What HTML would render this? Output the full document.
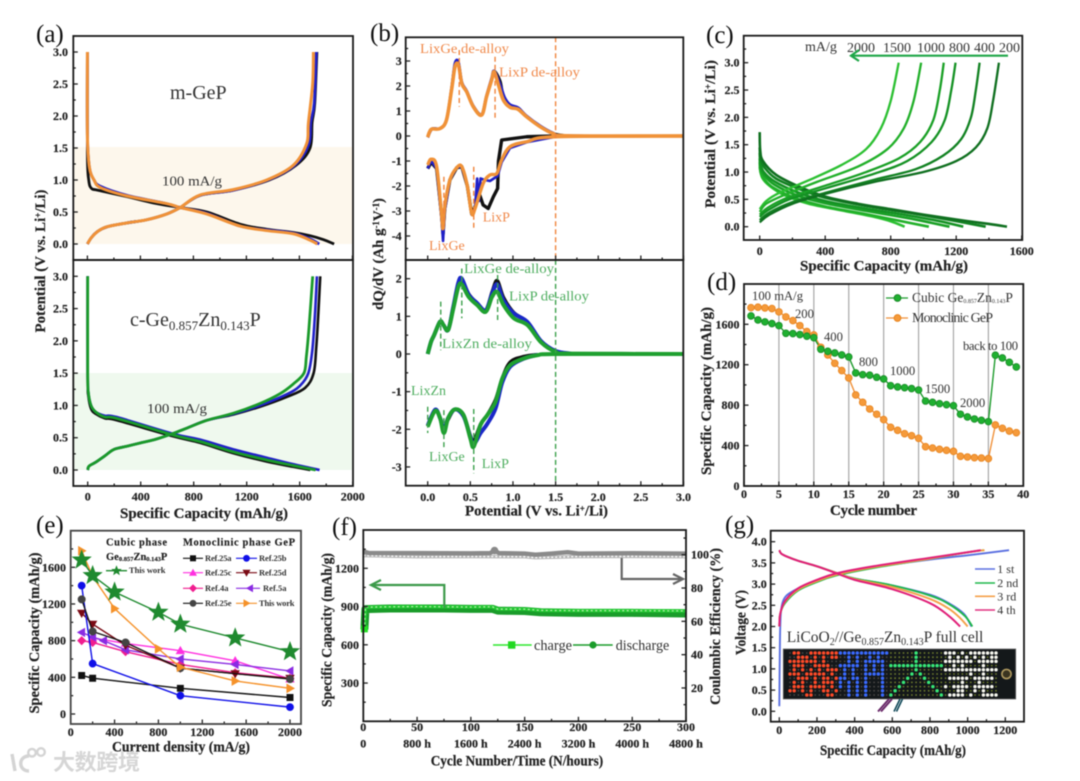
<!DOCTYPE html>
<html lang="en">
<head>
<meta charset="utf-8">
<title>Ge-Zn-P anode electrochemistry figure</title>
<style>
html,body{margin:0;padding:0;background:#fff;width:1080px;height:781px;overflow:hidden}
svg{display:block;filter:blur(0.55px)}
text{font-family:"Liberation Serif","Noto Sans CJK SC",serif;fill:#222}
.tk{font-weight:bold;font-size:12px;stroke:#222;stroke-width:.2}
.ti{font-weight:bold;font-size:15px;stroke:#222;stroke-width:.2}
.pl{font-size:25px;fill:#111}
.an{font-size:14px;fill:#333}
.dl{font-size:12.6px;fill:#333}
.or{font-size:14px;fill:#f08a4c}
.gr{font-size:14px;fill:#4fae60}
.lg{font-size:8.5px;font-weight:bold;letter-spacing:.5px;fill:#333}
.hd{font-size:10.5px;font-weight:bold;fill:#222;stroke:#222;stroke-width:.15}
</style>
</head>
<body>
<svg id="fig" xmlns="http://www.w3.org/2000/svg" width="1080" height="781" viewBox="0 0 1080 781">
<rect x="0" y="0" width="1080" height="781" fill="#fff"/>

<!-- shaded bands -->
<rect x="73" y="147" width="280" height="97" fill="#fdf7ec"/>
<rect x="73" y="373" width="280" height="97" fill="#eff9ee"/>

<!-- data layers -->
<g id="pa1"></g>
<g id="pa2"></g>
<g id="pb1"></g>
<g id="pb2"></g>
<g id="pc"></g>
<g id="pd"></g>
<g id="pe"></g>
<g id="pf"></g>
<g id="pg"></g>

<!-- frames -->
<g fill="none" stroke="#1a1a1a" stroke-width="1.8">
<rect x="73.3" y="36" width="279.7" height="224"/>
<rect x="73.3" y="260" width="279.7" height="226"/>
<rect x="405.7" y="37.3" width="277.6" height="222.7"/>
<rect x="405.7" y="260" width="277.6" height="225.7"/>
<rect x="743.7" y="35.7" width="278.6" height="204.3"/>
<rect x="744" y="284" width="279.3" height="202"/>
<rect x="70.7" y="530.7" width="230.3" height="193.3" stroke="#444"/>
<rect x="363.3" y="530" width="322.7" height="191.3"/>
<rect x="770.7" y="530.7" width="253.3" height="191"/>
</g>

<!-- panel letters -->
<text class="pl" x="36" y="42">(a)</text>
<text class="pl" x="370" y="41">(b)</text>
<text class="pl" x="706" y="43">(c)</text>
<text class="pl" x="707" y="290">(d)</text>
<text class="pl" x="36" y="533">(e)</text>
<text class="pl" x="332" y="535">(f)</text>
<text class="pl" x="725" y="533">(g)</text>

<!-- panel a text -->
<text x="170" y="99" font-size="20" style="fill:#333">m-GeP</text>
<text class="an" x="162" y="185.7" textLength="60" lengthAdjust="spacingAndGlyphs">100 mA/g</text>
<text x="130" y="326" font-size="20" style="fill:#333">c-Ge<tspan dy="4" font-size="13">0.857</tspan><tspan dy="-4">Zn</tspan><tspan dy="4" font-size="13">0.143</tspan><tspan dy="-4">P</tspan></text>
<text class="an" x="147" y="413" textLength="60" lengthAdjust="spacingAndGlyphs">100 mA/g</text>
<text class="ti" text-anchor="middle" transform="translate(45,261) rotate(-90)" textLength="143" lengthAdjust="spacingAndGlyphs">Potential (V vs. Li<tspan dy="-4" font-size="9">+</tspan><tspan dy="4">/Li)</tspan></text>
<text class="ti" x="120" y="518" textLength="168" lengthAdjust="spacingAndGlyphs">Specific Capacity (mAh/g)</text>

<!-- panel b text -->
<text class="or" x="420" y="53" textLength="89" lengthAdjust="spacingAndGlyphs">LixGe de-alloy</text>
<text class="or" x="499" y="76.7" textLength="81" lengthAdjust="spacingAndGlyphs">LixP de-alloy</text>
<text class="or" x="482.7" y="221.7">LixP</text>
<text class="or" x="429" y="250">LixGe</text>
<text class="gr" x="464" y="273" textLength="90" lengthAdjust="spacingAndGlyphs">LixGe de-alloy</text>
<text class="gr" x="509" y="300.7" textLength="80" lengthAdjust="spacingAndGlyphs">LixP de-alloy</text>
<text class="gr" x="442" y="348" textLength="90" lengthAdjust="spacingAndGlyphs">LixZn de-alloy</text>
<text class="gr" x="411" y="395">LixZn</text>
<text class="gr" x="429" y="461">LixGe</text>
<text class="gr" x="481.7" y="468">LixP</text>
<text class="ti" text-anchor="middle" transform="translate(383,254) rotate(-90)" textLength="112" lengthAdjust="spacingAndGlyphs">dQ/dV (Ah g<tspan dy="-4" font-size="9">-1</tspan><tspan dy="4">V</tspan><tspan dy="-4" font-size="9">-1</tspan><tspan dy="4">)</tspan></text>
<text class="ti" x="465" y="515.7" textLength="143" lengthAdjust="spacingAndGlyphs">Potential (V vs. Li<tspan dy="-4" font-size="9">+</tspan><tspan dy="4">/Li)</tspan></text>

<!-- panel c text -->
<text class="an" x="805" y="51">mA/g</text>
<text class="an" x="847" y="52">2000</text>
<text class="an" x="883" y="52">1500</text>
<text class="an" x="917" y="52">1000</text>
<text class="an" x="949" y="52">800</text>
<text class="an" x="974" y="52">400</text>
<text class="an" x="999" y="52">200</text>
<g fill="none" stroke="#1fa648" stroke-width="2.2">
<path d="M1008 55.7H851"/><path d="M859 50L851 55.7L859 61"/>
</g>
<text class="ti" text-anchor="middle" transform="translate(715,134) rotate(-90)" textLength="148" lengthAdjust="spacingAndGlyphs">Potential (V vs. Li<tspan dy="-4" font-size="9">+</tspan><tspan dy="4">/Li)</tspan></text>
<text class="ti" x="800" y="270.7" textLength="168" lengthAdjust="spacingAndGlyphs">Specific Capacity (mAh/g)</text>

<!-- panel d text -->
<text class="dl" x="752" y="300" textLength="51">100 mA/g</text>
<text class="dl" x="795" y="318">200</text>
<text class="dl" x="824" y="341">400</text>
<text class="dl" x="859" y="366">800</text>
<text class="dl" x="890" y="375">1000</text>
<text class="dl" x="925" y="393">1500</text>
<text class="dl" x="960" y="407">2000</text>
<text class="dl" x="963" y="350" textLength="55">back to 100</text>
<g>
<line x1="886" x2="908" y1="298" y2="298" stroke="#1f9c2e" stroke-width="1.3"/>
<circle cx="897.5" cy="298" r="3.4" fill="#1fb030" stroke="#1a8a28"/>
<text class="an" x="912" y="302" style="font-size:13.5px">Cubic Ge<tspan dy="1" font-size="6">0.857</tspan><tspan dy="-1">Zn</tspan><tspan dy="1" font-size="6">0.143</tspan><tspan dy="-1">P</tspan></text>
</g>
<g>
<line x1="886" x2="908" y1="318" y2="318" stroke="#f0913a" stroke-width="1.3"/>
<circle cx="897.5" cy="318" r="3.4" fill="#f59a3a" stroke="#e88520"/>
<text class="an" x="912" y="322" textLength="81">Monoclinic GeP</text>
</g>
<text class="ti" text-anchor="middle" transform="translate(711,391) rotate(-90)" textLength="168" lengthAdjust="spacingAndGlyphs">Specific Capacity (mAh/g)</text>
<text class="ti" x="830" y="515" textLength="87" lengthAdjust="spacing">Cycle number</text>

<!-- panel e text and legend -->
<text class="hd" x="106" y="545.7" textLength="61">Cubic phase</text>
<text class="hd" x="183" y="545.7" textLength="112">Monoclinic phase GeP</text>
<text class="hd" x="106" y="560">Ge<tspan font-size="6.5" dy="1">0.857</tspan><tspan dy="-1">Zn</tspan><tspan font-size="6.5" dy="1">0.143</tspan><tspan dy="-1">P</tspan></text>
<g>
<line x1="106" x2="127" y1="570.7" y2="570.7" stroke="#1f8a2f" stroke-width="1.3"/>
<polygon transform="translate(116.5,570.7)" points="0,-5.5 1.5,-1.7 5.2,-1.7 2.4,.8 3.3,4.5 0,2.3 -3.3,4.5 -2.4,.8 -5.2,-1.7 -1.5,-1.7" fill="#1f8a2f"/>
<text class="lg" x="129" y="573" textLength="37">This work</text>
</g>
<g><line x1="183" x2="203" y1="558.3" y2="558.3" stroke="#111" stroke-width="1.2"/><rect x="190" y="555.3" width="6" height="6" fill="#111"/><text class="lg" x="205" y="561" textLength="27">Ref.25a</text></g>
<g><line x1="236" x2="257" y1="558.3" y2="558.3" stroke="#1010e8" stroke-width="1.2"/><circle cx="246.5" cy="558.3" r="3.4" fill="#1010e8"/><text class="lg" x="259" y="561" textLength="28">Ref.25b</text></g>
<g><line x1="183" x2="203" y1="572.7" y2="572.7" stroke="#ff30e0" stroke-width="1.2"/><polygon transform="translate(193,572.7)" points="0,-4 4,3 -4,3" fill="#ff30e0"/><text class="lg" x="205" y="575.4" textLength="27">Ref.25c</text></g>
<g><line x1="236" x2="257" y1="572.7" y2="572.7" stroke="#7a0a14" stroke-width="1.2"/><polygon transform="translate(246.5,572.7)" points="0,4 4,-3 -4,-3" fill="#7a0a14"/><text class="lg" x="259" y="575.4" textLength="28">Ref.25d</text></g>
<g><line x1="183" x2="203" y1="588.3" y2="588.3" stroke="#f01d8f" stroke-width="1.2"/><polygon transform="translate(193,588.3)" points="0,-4 4,0 0,4 -4,0" fill="#f01d8f"/><text class="lg" x="205" y="591" textLength="24">Ref.4a</text></g>
<g><line x1="236" x2="260" y1="588.3" y2="588.3" stroke="#8a2be2" stroke-width="1.2"/><polygon transform="translate(250,588.3)" points="-4,0 3,-4 3,4" fill="#8a2be2"/><text class="lg" x="263" y="591" textLength="24">Ref.5a</text></g>
<g><line x1="183" x2="203" y1="603.3" y2="603.3" stroke="#111" stroke-width="1.2"/><circle cx="193" cy="603.3" r="3.4" fill="#444"/><text class="lg" x="205" y="606" textLength="27">Ref.25e</text></g>
<g><line x1="236" x2="257" y1="603.3" y2="603.3" stroke="#f5922a" stroke-width="1.2"/><polygon transform="translate(246.5,603.3)" points="4,0 -3,-4 -3,4" fill="#f5922a"/><text class="lg" x="259" y="606" textLength="36">This work</text></g>
<text class="ti" text-anchor="middle" transform="translate(39,633) rotate(-90)" textLength="161" lengthAdjust="spacingAndGlyphs">Specific Capacity (mAh/g)</text>
<text class="ti" x="112" y="751.7" textLength="138" lengthAdjust="spacingAndGlyphs">Current density (mA/g)</text>

<!-- panel f text and annotations -->
<g fill="none" stroke="#3c9a4a" stroke-width="2.2">
<path d="M444.3 608V585H372"/><path d="M381 580L371 585L381 590" />
</g>
<g fill="none" stroke="#666" stroke-width="2.2">
<path d="M621.7 558V579H682"/><path d="M673 574L683 579L673 584"/>
</g>
<g>
<line x1="493" x2="531.7" y1="645" y2="645" stroke="#2ee82e" stroke-width="1.6"/>
<rect x="508" y="641.3" width="7.4" height="7.4" fill="#22d822"/>
<text class="an" x="534" y="650" textLength="38" lengthAdjust="spacingAndGlyphs" style="font-size:14.5px">charge</text>
</g>
<g>
<line x1="573" x2="612.7" y1="645" y2="645" stroke="#1a9c2a" stroke-width="1.6"/>
<circle cx="593" cy="645" r="3.6" fill="#1a9c2a"/>
<text class="an" x="615.7" y="650" textLength="53.5" lengthAdjust="spacingAndGlyphs" style="font-size:14.5px">discharge</text>
</g>
<text class="ti" text-anchor="middle" transform="translate(331.7,630) rotate(-90)" textLength="154" lengthAdjust="spacingAndGlyphs">Specific Capacity (mAh/g)</text>
<text class="ti" text-anchor="middle" transform="translate(720,626.5) rotate(-90)" textLength="157" lengthAdjust="spacingAndGlyphs">Coulombic Efficiency (%)</text>
<text class="ti" x="430.7" y="765.7" textLength="172.5" lengthAdjust="spacingAndGlyphs">Cycle Number/Time (N/hours)</text>

<!-- panel g text -->
<g><line x1="975" x2="995" y1="569" y2="569" stroke="#5a6fe0" stroke-width="1.6"/><text class="an" x="997.3" y="573" style="font-size:12px">1 st</text></g>
<g><line x1="975" x2="995" y1="583" y2="583" stroke="#1eb84a" stroke-width="1.6"/><text class="an" x="997.3" y="587" style="font-size:12px">2 nd</text></g>
<g><line x1="975" x2="995" y1="596.3" y2="596.3" stroke="#f5a04a" stroke-width="1.6"/><text class="an" x="997.3" y="600.3" style="font-size:12px">3 rd</text></g>
<g><line x1="975" x2="995" y1="610" y2="610" stroke="#e0307f" stroke-width="1.6"/><text class="an" x="997.3" y="614" style="font-size:12px">4 th</text></g>
<text x="786.7" y="642" font-size="15.5" style="fill:#333">LiCoO<tspan dy="3" font-size="10">2</tspan><tspan dy="-3">//Ge</tspan><tspan dy="3" font-size="10">0.857</tspan><tspan dy="-3">Zn</tspan><tspan dy="3" font-size="10">0.143</tspan><tspan dy="-3">P full cell</tspan></text>
<text class="ti" text-anchor="middle" transform="translate(745.7,622.5) rotate(-90)" textLength="65" lengthAdjust="spacingAndGlyphs">Voltage (V)</text>
<text class="ti" x="820" y="755" textLength="146" lengthAdjust="spacingAndGlyphs">Specific Capacity (mAh/g)</text>

<!-- LED photo -->
<g id="led">
<rect x="783.3" y="649" width="232.4" height="50" fill="#14181a" stroke="#666" stroke-width=".8"/>
<path d="M889 699L878 711.5M892 699L881 711.5" stroke="#6a2a6a" stroke-width="2" fill="none"/>
<path d="M900 699L894 711.5M902.5 699L896.5 711.5" stroke="#124a5a" stroke-width="1.6" fill="none"/>
<circle cx="1006.5" cy="674" r="4.6" fill="#3a3420" stroke="#b09a60" stroke-width="1.6"/>
</g>

<!-- watermark -->
<g>
<g fill="none" stroke="#d4d4d4" stroke-width="3.4">
<path d="M12 754L15 771"/><path d="M29 756C18 756 18 771 29 771"/>
<circle cx="32" cy="752.7" r="3.8" stroke-width="2.4"/><circle cx="41" cy="752" r="3.8" stroke-width="2.4"/>
</g>
<text x="53" y="770" font-size="22" font-weight="700" textLength="87" style="font-family:'Liberation Sans','Noto Sans CJK SC',sans-serif;fill:#d6d6d6">大数跨境</text>
</g>
</svg>

<script>
/* ---------- axis tick values ---------- */
const aXTicks=[0,400,800,1200,1600,2000];
const aXMinor=[200,600,1000,1400,1800];
const aYTicks=[0,0.5,1,1.5,2,2.5,3];
const aYMinor=[0.25,0.75,1.25,1.75,2.25,2.75,3.25];
const bXTicks=[0,0.5,1,1.5,2,2.5,3];
const bXMinor=[0.25,0.75,1.25,1.75,2.25,2.75];
const b1YTicks=[-4,-3,-2,-1,0,1,2,3];
const b1YMinor=[-4.5,-3.5,-2.5,-1.5,-0.5,0.5,1.5,2.5,3.5];
const b2YTicks=[-3,-2,-1,0,1,2];
const b2YMinor=[-2.5,-1.5,-0.5,0.5,1.5];
const cXTicks=[0,400,800,1200,1600];
const cXMinor=[200,600,1000,1400];
const cYTicks=[0,0.5,1,1.5,2,2.5,3];
const cYMinor=[0.25,0.75,1.25,1.75,2.25,2.75,3.25];
const dXTicks=[0,5,10,15,20,25,30,35,40];
const dXMinor=[2.5,7.5,12.5,17.5,22.5,27.5,32.5,37.5];
const dYTicks=[0,400,800,1200,1600];
const dYMinor=[200,600,1000,1400,1800];
const dGridCycles=[5,10,15,20,25,30,35];
const eXTicks=[0,400,800,1200,1600,2000];
const eXMinor=[200,600,1000,1400,1800];
const eYTicks=[0,400,800,1200,1600];
const eYMinor=[200,600,1000,1400,1800];
const fXTicks=[0,50,100,150,200,250,300];
const fXMinor=[25,75,125,175,225,275];
const fHourLabels=['0','800 h','1600 h','2400 h','3200 h','4000 h','4800 h'];
const fYTicks=[300,600,900,1200];
const fYMinor=[150,450,750,1050,1350];
const fRightTicks=[20,40,60,80,100];
const fRightMinor=[10,30,50,70,90,110];
const gXTicks=[0,200,400,600,800,1000,1200];
const gXMinor=[100,300,500,700,900,1100];
const gYTicks=[0,0.5,1,1.5,2,2.5,3,3.5,4];
const gYMinor=[0.25,0.75,1.25,1.75,2.25,2.75,3.25,3.75];

/* ---------- panel a (capacity, potential) ---------- */
const a1BlackDis=[[0,3],[0,1.4],[10,1.0],[30,.87],[80,.84],[300,.74],[500,.64],[700,.57],[900,.5],[1152,.31],[1353,.23],[1554,.18],[1680,.13],[1780,.07],[1862,0]];
const a1BlueDis=[[0,3],[0,1.7],[15,1.2],[50,1.0],[100,.9],[300,.76],[600,.63],[700,.57],[900,.48],[1152,.28],[1353,.22],[1554,.17],[1680,.08],[1750,0]];
const a1OrangeDis=[[0,3],[0,1.7],[15,1.2],[50,1.0],[100,.88],[300,.75],[600,.63],[700,.57],[900,.47],[1152,.28],[1353,.21],[1554,.16],[1680,.06],[1735,0]];
const a1BlackCh=[[0,0],[30,.1],[80,.2],[150,.27],[300,.33],[450,.38],[600,.47],[700,.57],[850,.76],[1100,.84],[1373,1.0],[1574,1.23],[1680,1.5],[1696,1.9],[1716,2.2],[1732,3]];
const a1BlueCh=[[0,0],[30,.1],[80,.2],[150,.27],[300,.33],[450,.38],[600,.47],[700,.57],[850,.76],[1100,.84],[1363,1.0],[1564,1.23],[1670,1.55],[1686,1.9],[1712,2.2],[1728,3]];
const a1OrangeCh=[[0,0],[30,.1],[80,.2],[150,.27],[300,.33],[450,.38],[600,.47],[700,.57],[850,.765],[1100,.85],[1353,1.0],[1554,1.23],[1655,1.57],[1668,1.89],[1700,2.5],[1706,3]];
const a2BlackDis=[[0,3],[0,1.4],[5,1.15],[25,.95],[60,.87],[130,.8],[219,.77],[647,.52],[850,.42],[1100,.26],[1352,.13],[1550,.05],[1680,0]];
const a2BlueDis=[[0,3],[0,1.5],[5,1.2],[25,1],[60,.9],[130,.84],[219,.82],[647,.56],[850,.47],[1100,.32],[1352,.19],[1550,.09],[1750,0]];
const a2GreenDis=[[0,3],[0,1.5],[5,1.2],[25,1],[60,.9],[130,.82],[219,.8],[647,.54],[850,.44],[1100,.28],[1352,.155],[1550,.07],[1720,0]];
const a2BlackCh=[[0,0],[10,.06],[60,.12],[130,.22],[200,.32],[300,.37],[400,.42],[520,.48],[650,.57],[750,.65],[900,.77],[1100,.86],[1300,.98],[1500,1.13],[1640,1.27],[1705,1.5],[1725,1.9],[1740,2.4],[1755,3]];
const a2BlueCh=[[0,0],[10,.06],[60,.12],[130,.22],[200,.32],[300,.37],[400,.42],[520,.48],[650,.57],[750,.65],[900,.77],[1100,.87],[1300,1.0],[1500,1.17],[1600,1.3],[1665,1.5],[1695,1.85],[1715,2.4],[1730,3]];
const a2GreenCh=[[0,0],[10,.06],[60,.12],[130,.22],[200,.32],[300,.37],[400,.42],[520,.48],[650,.57],[750,.65],[900,.77],[1100,.88],[1300,1.03],[1450,1.18],[1550,1.33],[1632,1.5],[1650,1.75],[1670,2.2],[1698,3]];

/* ---------- panel b (potential, dQ/dV) ---------- */
const b1OrangeUp=[[0,-.05],[.02,.15],[.05,.28],[.145,.3],[.22,.64],[.28,1.85],[.32,2.77],[.36,2.85],[.4,2.1],[.457,1.77],[.535,1.17],[.633,.84],[.69,1.57],[.75,2.24],[.78,2.57],[.83,2.04],[.887,1.44],[.965,1.15],[1.06,1.07],[1.16,.77],[1.32,.37],[1.47,.1],[1.63,.01],[3,0]];
const b1BlueUp=[[0,-.05],[.05,.28],[.145,.3],[.22,.64],[.28,1.9],[.32,2.9],[.36,2.95],[.4,2.15],[.457,1.8],[.535,1.2],[.633,.86],[.69,1.6],[.75,2.3],[.78,2.6],[.85,2.05],[.9,1.55],[.965,1.25],[1.06,1.13],[1.16,.8],[1.32,.4],[1.47,.12],[1.63,.01],[3,0]];
const b1BlackUp=[[0,-.05],[.05,.28],[.145,.3],[.22,.64],[.28,1.85],[.32,2.8],[.36,2.9],[.4,2.1],[.457,1.77],[.535,1.17],[.633,.84],[.69,1.6],[.75,2.25],[.78,2.6],[.85,2.2],[.89,1.55],[.965,1.2],[1.06,1.1],[1.16,.78],[1.32,.38],[1.47,.1],[1.63,.01]];
const b1OrangeDown=[[3,0],[1.5,-.03],[1.16,-.23],[.965,-.43],[.867,-.96],[.81,-1.5],[.73,-1.56],[.65,-1.9],[.555,-2.9],[.516,-3.1],[.465,-2],[.4,-1.23],[.34,-1.27],[.26,-1.76],[.2,-2.83],[.18,-3.7],[.164,-3.2],[.105,-1.23],[.04,-.93],[0,-1.16]];
const b1BlueDown=[[1.5,-.03],[1.16,-.25],[.965,-.48],[.867,-1.05],[.82,-1.6],[.73,-1.8],[.66,-1.75],[.62,-1.7],[.6,-2.6],[.58,-1.7],[.555,-2.9],[.516,-3.15],[.465,-2],[.4,-1.23],[.34,-1.25],[.26,-1.76],[.2,-3],[.18,-4.2],[.164,-3.4],[.105,-1.3],[.04,-1],[0,-1.3]];
const b1BlackDown=[[1.5,0],[1.16,-.03],[.867,-.16],[.83,-1],[.82,-2.1],[.77,-2.43],[.71,-2.9],[.65,-2.76],[.61,-2.36],[.555,-2.83],[.516,-3.12],[.465,-2],[.4,-1.23],[.34,-1.27],[.26,-1.76],[.2,-2.9],[.18,-3.9],[.164,-3.2],[.105,-1.3],[.04,-1.05],[0,-1.3]];
const b2GreenUp=[[0,0],[.04,.33],[.075,.5],[.145,.86],[.185,.77],[.24,.64],[.3,1.2],[.36,1.79],[.4,1.85],[.48,1.52],[.58,1.3],[.68,1.12],[.755,1.52],[.815,1.65],[.89,1.3],[1.01,.95],[1.17,.77],[1.33,.31],[1.5,.06],[1.68,.01],[3,0]];
const b2BlueUp=[[0,0],[.04,.33],[.075,.5],[.145,.86],[.185,.77],[.24,.64],[.3,1.25],[.36,1.9],[.4,2],[.48,1.58],[.58,1.35],[.68,1.16],[.755,1.6],[.815,1.85],[.89,1.42],[1.01,1.08],[1.17,.85],[1.33,.34],[1.5,.08],[1.68,.01]];
const b2BlackUp=[[.04,.33],[.075,.5],[.145,.86],[.185,.77],[.24,.64],[.3,1.25],[.36,1.9],[.4,2],[.48,1.6],[.58,1.35],[.68,1.16],[.755,1.65],[.815,1.95],[.89,1.5],[1.01,1.1],[1.17,.85],[1.33,.33],[1.5,.07]];
const b2GreenDown=[[3,0],[1.52,0],[1.29,-.03],[1.13,-.115],[.97,-.29],[.875,-.65],[.795,-1.27],[.7,-1.62],[.62,-1.88],[.54,-2.46],[.5,-2.24],[.42,-1.62],[.32,-1.47],[.24,-1.7],[.19,-2.1],[.145,-1.7],[.087,-1.51],[0,-1.93]];
const b2BlueDown=[[1.29,-.02],[1.13,-.12],[.97,-.33],[.875,-.75],[.795,-1.45],[.7,-1.85],[.62,-2.1],[.54,-2.4],[.5,-2.2],[.42,-1.65],[.32,-1.47],[.24,-1.7],[.19,-2],[.145,-1.7],[.087,-1.48],[0,-1.9]];
const b2BlackDown=[[1.29,-.01],[1.13,-.06],[.97,-.2],[.875,-.62],[.795,-1.2],[.7,-1.6],[.62,-1.85],[.54,-2.3],[.5,-2.15],[.42,-1.6],[.32,-1.47],[.24,-1.75],[.19,-1.95],[.145,-1.7],[.087,-1.5],[0,-1.88]];
const b1DashX=[.37,.79,.19,.54];
const b1DashTop=[3.44,3.17,-1.63,-1.23];
const b1DashBottom=[1.17,.64,-3.63,-3.76];
const b2DashX=[.153,.4,.82,0,.19,.54];
const b2DashTop=[1.39,2.27,2.1,-1.4,-1.49,-1.46];
const b2DashBottom=[.1,.95,.86,-2.1,-2.55,-3.17];

/* ---------- panel c (capacity, potential) ---------- */
const cCharge200=[[0,.08],[60,.22],[200,.42],[400,.6],[700,.82],[1000,1],[1200,1.2],[1320,1.45],[1390,1.8],[1425,2.3],[1461,3]];
const cCharge400=[[0,.12],[60,.26],[200,.45],[400,.62],[700,.86],[950,1.05],[1120,1.3],[1230,1.6],[1290,2],[1320,2.5],[1343,3]];
const cCharge800=[[0,.18],[50,.3],[180,.5],[400,.7],[700,.97],[900,1.2],[1050,1.55],[1130,1.95],[1170,2.5],[1196,3]];
const cCharge1000=[[0,.22],[50,.35],[170,.53],[400,.75],[650,1],[850,1.25],[980,1.55],[1060,1.95],[1100,2.5],[1124,3]];
const cCharge1500=[[0,.27],[40,.42],[150,.58],[350,.82],[600,1.1],[780,1.42],[880,1.8],[940,2.3],[986,3]];
const cCharge2000=[[0,.32],[40,.47],[120,.62],[300,.85],[500,1.13],[650,1.42],[740,1.8],[800,2.3],[849,3]];
const cDis200=[[0,1.73],[3,1.4],[20,1.2],[100,.95],[250,.72],[400,.55],[600,.42],[800,.32],[1000,.22],[1200,.13],[1400,.05],[1510,0]];
const cDis400=[[0,1.45],[5,1.25],[30,1.08],[100,.88],[250,.68],[400,.53],[650,.38],[900,.26],[1150,.13],[1380,0]];
const cDis800=[[0,1.35],[5,1.15],[25,1],[90,.83],[230,.63],[400,.47],[650,.33],[900,.21],[1100,.1],[1243,0]];
const cDis1000=[[0,1.25],[5,1.08],[25,.95],[90,.77],[230,.57],[400,.43],[650,.29],[900,.16],[1050,.07],[1159,0]];
const cDis1500=[[0,1.18],[5,1],[25,.88],[80,.72],[220,.52],[400,.37],[650,.23],[850,.11],[1033,0]];
const cDis2000=[[0,1.1],[15,.9],[60,.75],[150,.58],[300,.42],[500,.3],[700,.18],[800,.1],[885,0]];

/* ---------- panel d ---------- */
const dCycles=[1,2,3,4,5,6,7,8,9,10,11,12,13,14,15,16,17,18,19,20,21,22,23,24,25,26,27,28,29,30,31,32,33,34,35,36,37,38,39];
const dCubic=[1683,1643,1624,1607,1587,1511,1508,1498,1482,1468,1353,1333,1317,1297,1277,1119,1102,1096,1076,1059,993,980,973,964,950,841,828,815,805,795,710,683,663,650,637,1294,1267,1224,1178];
const dMonoclinic=[1765,1769,1762,1756,1723,1673,1637,1587,1528,1495,1373,1297,1214,1142,1069,901,828,762,710,657,581,551,518,498,472,389,376,363,353,343,294,287,280,277,271,604,571,544,528];

/* ---------- panel e (current density, capacity) ---------- */
const eRef25a=[[100,420],[200,390],[1000,280],[2000,180]];
const eRef25b=[[100,1400],[200,550],[1000,200],[2000,75]];
const eRef25c=[[200,830],[500,770],[1000,690],[1500,580],[2000,380]];
const eRef25d=[[100,1100],[200,980],[500,750],[1000,500],[1500,440],[2000,390]];
const eRef4a=[[100,800],[200,780],[500,680],[1000,540],[1500,450],[2000,390]];
const eRef5a=[[100,890],[200,840],[300,800],[500,700],[1000,600],[1500,540],[2000,470]];
const eRef25e=[[100,1250],[200,900],[500,780],[1000,500],[2000,380]];
const eThisMono=[[100,1780],[200,1500],[400,1150],[800,710],[1000,510],[1500,360],[2000,280]];
const eThisCubic=[[100,1680],[200,1510],[400,1330],[800,1110],[1000,980],[1500,830],[2000,680]];

/* ---------- panel f (cycle, value) ---------- */
const fDischarge=[[1,720],[2,880],[25,885],[50,885],[75,885],[100,882],[120,882],[125,868],[150,865],[165,855],[200,850],[250,850],[300,845]];
const fCharge=[[1,725],[2,895],[25,898],[50,900],[75,898],[100,896],[120,898],[125,880],[150,880],[165,870],[200,868],[250,868],[300,866]];
const fCeCharge=[[0,102],[5,101],[50,101],[100,100.8],[118,101],[122,102.5],[126,101],[150,100.7],[160,100],[175,100.7],[190,101.5],[200,100.7],[250,100.9],[300,100.7]];
const fCeDischarge=[[0,99.5],[50,98.8],[100,98.9],[150,98.8],[160,98.2],[200,98.9],[250,99],[300,98.8]];

/* ---------- panel g (capacity, voltage) ---------- */
const gCh1=[[0,.12],[3,1.5],[5,2],[10,2.4],[25,2.65],[60,2.8],[150,3],[300,3.22],[500,3.4],[800,3.58],[1000,3.68],[1220,3.8]];
const gCh2=[[0,2],[5,2.3],[30,2.55],[100,2.85],[200,3.05],[300,3.2],[500,3.38],[800,3.6],[1000,3.75],[1085,3.8]];
const gCh3=[[0,2],[5,2.3],[30,2.58],[100,2.87],[200,3.07],[300,3.22],[500,3.4],[800,3.6],[1000,3.75],[1090,3.8]];
const gCh4=[[0,2],[5,2.3],[30,2.6],[100,2.9],[200,3.1],[300,3.25],[500,3.42],[800,3.62],[1000,3.75],[1070,3.8]];
const gDis1=[[0,3.8],[10,3.72],[40,3.65],[100,3.55],[200,3.42],[300,3.27],[400,3.13],[600,2.97],[800,2.75],[900,2.55],[980,2.3],[1020,2]];
const gDis2=[[0,3.8],[10,3.72],[40,3.65],[100,3.55],[200,3.42],[300,3.27],[400,3.13],[600,2.97],[800,2.73],[900,2.53],[985,2.25],[1025,2]];
const gDis3=[[0,3.8],[10,3.72],[40,3.65],[100,3.55],[200,3.42],[300,3.27],[400,3.12],[600,2.93],[800,2.65],[900,2.42],[960,2.2],[1000,2]];
const gDis4=[[0,3.8],[10,3.72],[40,3.65],[100,3.55],[200,3.42],[300,3.26],[400,3.1],[600,2.88],[800,2.55],[900,2.25],[960,2]];

/* ---------- LED bitmap rows ---------- */
const ledRed=[".##..#######","..###.#.#.##","#######.#...",".###..####..",".#.#.#.#.###","###.#####.#.","..###.#.##.#",".#.#..#.###.",".###.####.#.","##.#.#..##.#","....##...##."];
const ledBlue=["############","..#.#..#.#..","..#.#.#####.","#####.#.#.#.",".#.#..#.#.#.",".#.#..#####.","##.##.#...#.","#.#.#.#...#.","#.#.#.#...#.","..#.#.#...#.","..#.#.#...#."];
const ledGreen=["......#......","......#......","......#......","#############","......#......",".....#.#.....","....#...#....","...#.....#...","..#.......#..",".#.........#.","#...........#"];
const ledWhite=["###.#.#######",".#.#.#.#.#.##","#######.#####","..#.#....#...","#############","......#..#...",".#####.#####.","....#...#....","#.####.#####.","...##..#.#...",".####.#..####"];

/* ---------- helpers ---------- */
const NS='http://www.w3.org/2000/svg';
function scale(d0,d1,r0,r1){return v=>r0+(v-d0)*(r1-r0)/(d1-d0);}
function gOf(id){return document.getElementById(id);}
function drawPath(g,pts,sx,sy,color,w,name,smooth,dash){
  const p=pts.map(q=>[sx(q[0]),sy(q[1])]);
  let d='M'+p[0][0].toFixed(2)+' '+p[0][1].toFixed(2);
  for(let i=0;i<p.length-1;i++){
    if(smooth){
      const a=p[i-1]||p[i],b=p[i],c=p[i+1],e=p[i+2]||c;
      d+='C'+(b[0]+(c[0]-a[0])/6).toFixed(2)+' '+(b[1]+(c[1]-a[1])/6).toFixed(2)+' '+(c[0]-(e[0]-b[0])/6).toFixed(2)+' '+(c[1]-(e[1]-b[1])/6).toFixed(2)+' '+c[0].toFixed(2)+' '+c[1].toFixed(2);
    }else{d+='L'+p[i+1][0].toFixed(2)+' '+p[i+1][1].toFixed(2);}
  }
  const el=document.createElementNS(NS,'path');
  el.setAttribute('d',d);
  el.setAttribute('fill','none');
  el.setAttribute('stroke',color);
  el.setAttribute('stroke-width',w);
  el.setAttribute('stroke-linejoin','round');
  if(dash)el.setAttribute('stroke-dasharray',dash);
  
  
  g.appendChild(el);
}
function drawTick(g,x1,y1,x2,y2){
  const el=document.createElementNS(NS,'line');
  el.setAttribute('x1',x1);el.setAttribute('y1',y1);el.setAttribute('x2',x2);el.setAttribute('y2',y2);
  el.setAttribute('stroke','#222');
  el.setAttribute('stroke-width','1.3');
  
  
  g.appendChild(el);
}
function drawLabel(g,x,y,txt,anchor){
  const el=document.createElementNS(NS,'text');
  el.setAttribute('x',x);el.setAttribute('y',y);
  el.setAttribute('text-anchor',anchor);
  el.setAttribute('class','tk');
  el.textContent=txt;
  
  
  g.appendChild(el);
}
function xAxis(g,s,major,minor,yEdge,labelY,fmt){
  major.forEach(v=>{drawTick(g,s(v),yEdge,s(v),yEdge-4.5);
    if(labelY)drawLabel(g,s(v),labelY,fmt?fmt(v):String(v),'middle');});
  minor.forEach(v=>drawTick(g,s(v),yEdge,s(v),yEdge-2.5));
}
function yAxis(g,s,major,minor,xEdge,labelX,fmt,dir,anchor){
  const k=dir||1;
  major.forEach(v=>{drawTick(g,xEdge,s(v),xEdge+k*4.5,s(v));
    drawLabel(g,labelX,s(v)+4,fmt?fmt(v):String(v),anchor||'end');});
  minor.forEach(v=>drawTick(g,xEdge,s(v),xEdge+k*2.5,s(v)));
}
function polyPoints(type,r){
  if(type==='up')return [[0,-r],[r,r*.75],[-r,r*.75]];
  if(type==='down')return [[0,r],[r,-r*.75],[-r,-r*.75]];
  if(type==='left')return [[-r,0],[r*.75,-r],[r*.75,r]];
  if(type==='right')return [[r,0],[-r*.75,-r],[-r*.75,r]];
  if(type==='diamond')return [[0,-r],[r,0],[0,r],[-r,0]];
  if(type==='square')return [[-r*.85,-r*.85],[r*.85,-r*.85],[r*.85,r*.85],[-r*.85,r*.85]];
  const out=[];
  for(let i=0;i<10;i++){const a=-Math.PI/2+i*Math.PI/5,q=i%2?r*.42:r;out.push([q*Math.cos(a),q*Math.sin(a)]);}
  return out;
}
function drawMarker(g,type,cx,cy,r,fill,stroke,name){
  let el;
  if(type==='circle'){
    el=document.createElementNS(NS,'circle');
    el.setAttribute('cx',cx);el.setAttribute('cy',cy);el.setAttribute('r',r);
  }else{
    el=document.createElementNS(NS,'polygon');
    el.setAttribute('points',polyPoints(type,r).map(q=>(cx+q[0]).toFixed(2)+','+(cy+q[1]).toFixed(2)).join(' '));
  }
  el.setAttribute('fill',fill);
  el.setAttribute('stroke',stroke||fill);
  el.setAttribute('stroke-width','.8');
  
  
  g.appendChild(el);
}
function drawSeries(g,pts,sx,sy,type,r,color,name){
  drawPath(g,pts,sx,sy,color,1.4,name+'-line',false);
  pts.forEach(q=>drawMarker(g,type,sx(q[0]),sy(q[1]),r,color,color,name+'-point'));
}
const f1=v=>v.toFixed(1);

/* ---------- panel a ---------- */
(function(){
  const g=gOf('pa1'),x=scale(0,2000,87.4,352.4),y=scale(0,3,244,52);
  drawPath(g,a1BlackDis,x,y,'#111',2.8,'a-top-black-discharge',true);
  drawPath(g,a1BlueDis,x,y,'#2020c8',2.8,'a-top-blue-discharge',true);
  drawPath(g,a1OrangeDis,x,y,'#f09238',3,'a-top-orange-discharge',true);
  drawPath(g,a1BlackCh,x,y,'#111',2.8,'a-top-black-charge',true);
  drawPath(g,a1BlueCh,x,y,'#2020c8',2.8,'a-top-blue-charge',true);
  drawPath(g,a1OrangeCh,x,y,'#f09238',3,'a-top-orange-charge',true);
  xAxis(g,x,aXTicks,aXMinor,260,null);
  yAxis(g,y,aYTicks,aYMinor,73.3,68,f1);
  const h=gOf('pa2'),x2=scale(0,2000,87.7,352.7),y2=scale(0,3,470,276.3);
  drawPath(h,a2BlackDis,x2,y2,'#111',2.6,'a-bottom-black-discharge',true);
  drawPath(h,a2BlueDis,x2,y2,'#2020c8',2.6,'a-bottom-blue-discharge',true);
  drawPath(h,a2GreenDis,x2,y2,'#1a9a2a',2.8,'a-bottom-green-discharge',true);
  drawPath(h,a2BlackCh,x2,y2,'#111',2.6,'a-bottom-black-charge',true);
  drawPath(h,a2BlueCh,x2,y2,'#2020c8',2.6,'a-bottom-blue-charge',true);
  drawPath(h,a2GreenCh,x2,y2,'#1a9a2a',2.8,'a-bottom-green-charge',true);
  xAxis(h,x2,aXTicks,aXMinor,486,500.7);
  yAxis(h,y2,aYTicks,aYMinor,73.3,68,f1);
})();

/* ---------- panel b ---------- */
(function(){
  const g=gOf('pb1'),x=scale(0,3,427.7,683.5),y=scale(0,3,136,61);
  drawPath(g,b1BlackUp,x,y,'#111',2.8,'b-top-black-delithiation',true);
  drawPath(g,b1BlueUp,x,y,'#2020c8',3,'b-top-blue-delithiation',true);
  drawPath(g,b1BlackDown,x,y,'#111',3.4,'b-top-black-lithiation',false);
  drawPath(g,b1BlueDown,x,y,'#2020c8',2.6,'b-top-blue-lithiation',false);
  drawPath(g,b1OrangeUp,x,y,'#f09238',3.6,'b-top-orange-delithiation',true);
  drawPath(g,b1OrangeDown,x,y,'#f09238',3.4,'b-top-orange-lithiation',true);
  b1DashX.forEach((v,i)=>drawPath(g,[[v,b1DashTop[i]],[v,b1DashBottom[i]]],x,y,'#f0843c',1.4,'b-top-dashed-marker',false,'5 3'));
  drawPath(g,[[1.5,3.95],[1.5,-4.96]],x,y,'#f0843c',1.4,'b-top-dashed-1p5v',false,'5 3');
  xAxis(g,x,bXTicks,bXMinor,260,null);
  yAxis(g,y,b1YTicks,b1YMinor,405.7,401.7);
  const h=gOf('pb2'),y2=scale(0,2,354,278.7);
  drawPath(h,b2BlackUp,x,y2,'#111',3.4,'b-bottom-black-delithiation',true);
  drawPath(h,b2BlueUp,x,y2,'#1a28c8',4,'b-bottom-blue-delithiation',true);
  drawPath(h,b2GreenUp,x,y2,'#1fa030',4,'b-bottom-green-delithiation',true);
  drawPath(h,b2BlackDown,x,y2,'#111',3,'b-bottom-black-lithiation',true);
  drawPath(h,b2BlueDown,x,y2,'#1a28c8',4,'b-bottom-blue-lithiation',true);
  drawPath(h,b2GreenDown,x,y2,'#1fa030',4,'b-bottom-green-lithiation',true);
  b2DashX.forEach((v,i)=>drawPath(h,[[v,b2DashTop[i]],[v,b2DashBottom[i]]],x,y2,'#3ca04c',1.4,'b-bottom-dashed-marker',false,'5 3'));
  drawPath(h,[[1.5,2.5],[1.5,-3.4]],x,y2,'#3ca04c',1.4,'b-bottom-dashed-1p5v',false,'5 3');
  xAxis(h,x,bXTicks,bXMinor,485.7,501,f1);
  yAxis(h,y2,b2YTicks,b2YMinor,405.7,401.7);
})();

/* ---------- panel c ---------- */
(function(){
  const g=gOf('pc'),x=scale(0,1600,759.7,1021.7),y=scale(0,3,226.7,62.7);
  drawPath(g,cDis2000,x,y,'#2cc032',2.6,'c-discharge-2000',true);
  drawPath(g,cDis1500,x,y,'#22b02a',2.6,'c-discharge-1500',true);
  drawPath(g,cDis1000,x,y,'#1aa026',2.6,'c-discharge-1000',true);
  drawPath(g,cDis800,x,y,'#159224',2.6,'c-discharge-800',true);
  drawPath(g,cDis400,x,y,'#128222',2.6,'c-discharge-400',true);
  drawPath(g,cDis200,x,y,'#107020',2.6,'c-discharge-200',true);
  drawPath(g,cCharge2000,x,y,'#2cc032',2.3,'c-charge-2000',true);
  drawPath(g,cCharge1500,x,y,'#22b02a',2.3,'c-charge-1500',true);
  drawPath(g,cCharge1000,x,y,'#1aa026',2.3,'c-charge-1000',true);
  drawPath(g,cCharge800,x,y,'#159224',2.3,'c-charge-800',true);
  drawPath(g,cCharge400,x,y,'#128222',2.3,'c-charge-400',true);
  drawPath(g,cCharge200,x,y,'#107020',2.3,'c-charge-200',true);
  xAxis(g,x,cXTicks,cXMinor,240,255);
  yAxis(g,y,cYTicks,cYMinor,743.7,739.5,f1);
})();

/* ---------- panel d ---------- */
(function(){
  const g=gOf('pd'),x=scale(0,40,744,1023.3),y=scale(0,1600,486,324.3);
  dGridCycles.forEach(c=>drawPath(g,[[c,0],[c,2000]],x,y,'#a8a8a8',1.2,'d-rate-divider',false));
  const mono=dCycles.map((c,i)=>[c,dMonoclinic[i]]);
  const cub=dCycles.map((c,i)=>[c,dCubic[i]]);
  drawPath(g,mono,x,y,'#f0913a',1.4,'d-monoclinic-line',false);
  drawPath(g,cub,x,y,'#1f9c2e',1.4,'d-cubic-line',false);
  mono.forEach(q=>drawMarker(g,'circle',x(q[0]),y(q[1]),3.4,'#f59a3a','#e88520','d-monoclinic-point'));
  cub.forEach(q=>drawMarker(g,'circle',x(q[0]),y(q[1]),3.4,'#1fb030','#1a8a28','d-cubic-point'));
  xAxis(g,x,dXTicks,dXMinor,486,498);
  yAxis(g,y,dYTicks,dYMinor,744,739.5);
})();

/* ---------- panel e ---------- */
(function(){
  const g=gOf('pe'),x=scale(0,2000,70.7,290),y=scale(0,1600,714,567.3);
  drawSeries(g,eRef25c,x,y,'up',4,'#ff30e0','e-ref-25c');
  drawSeries(g,eRef4a,x,y,'diamond',4,'#f01d8f','e-ref-4a');
  drawSeries(g,eRef5a,x,y,'left',4,'#8a2be2','e-ref-5a');
  drawSeries(g,eRef25d,x,y,'down',4,'#7a0a14','e-ref-25d');
  drawSeries(g,eRef25a,x,y,'square',3.6,'#111','e-ref-25a');
  drawSeries(g,eRef25b,x,y,'circle',3.5,'#1010e8','e-ref-25b');
  drawPath(g,eRef25e,x,y,'#111',1.3,'e-ref-25e-line',false);
  eRef25e.forEach(q=>drawMarker(g,'circle',x(q[0]),y(q[1]),3.6,'#444','#444','e-ref-25e-point'));
  drawSeries(g,eThisMono,x,y,'right',4.2,'#f5922a','e-this-work-monoclinic');
  drawSeries(g,eThisCubic,x,y,'star',9.5,'#1f8a2f','e-this-work-cubic');
  xAxis(g,x,eXTicks,eXMinor,724,736);
  yAxis(g,y,eYTicks,eYMinor,70.7,66);
})();

/* ---------- panel f ---------- */
(function(){
  const g=gOf('pf'),x=scale(0,300,363.3,686),y=scale(0,1200,721.3,568.3),r=scale(0,100,721.3,554.7);
  drawPath(g,fCeDischarge,x,r,'#b4b4b4',3.4,'f-ce-hollow-band',false);
  drawPath(g,fCeDischarge,x,r,'#fff',1.4,'f-ce-hollow-markers',false,'2 2');
  drawPath(g,fCeCharge,x,r,'#8a8a8a',4.4,'f-ce-filled-band',false);
  drawPath(g,fDischarge,x,y,'#1a9c2a',8,'f-discharge-band',false);
  drawPath(g,fCharge,x,y,'#22c832',3.4,'f-charge-band',false);
  drawPath(g,fCharge,x,y,'#bdf0b0',1.2,'f-charge-markers',false,'2 2.5');
  drawMarker(g,'square',x(fCharge[0][0]),y(fCharge[0][1]),3.6,'#22e022','#22e022','f-first-charge-point');
  drawMarker(g,'circle',x(fCeCharge[5][0]),r(fCeCharge[5][1]),3.4,'#8a8a8a','#8a8a8a','f-ce-spike-point');
  xAxis(g,x,fXTicks,fXMinor,721.3,731);
  fXTicks.forEach((v,i)=>drawLabel(g,x(v),747.3,fHourLabels[i],'middle'));
  yAxis(g,y,fYTicks,fYMinor,363.3,359);
  yAxis(g,r,fRightTicks,fRightMinor,686,691,null,-1,'start');
})();

/* ---------- panel g ---------- */
(function(){
  const g=gOf('pg'),x=scale(0,1200,779.3,1005.3),y=scale(0,4,711.3,541.7);
  drawPath(g,gCh1,x,y,'#5a6fe0',1.9,'g-1st-charge',true);
  drawPath(g,gDis1,x,y,'#5a6fe0',1.9,'g-1st-discharge',true);
  drawPath(g,gCh2,x,y,'#1eb84a',1.9,'g-2nd-charge',true);
  drawPath(g,gDis2,x,y,'#1eb84a',1.9,'g-2nd-discharge',true);
  drawPath(g,gCh3,x,y,'#f5a04a',1.9,'g-3rd-charge',true);
  drawPath(g,gDis3,x,y,'#f5a04a',1.9,'g-3rd-discharge',true);
  drawPath(g,gCh4,x,y,'#e01f78',2,'g-4th-charge',true);
  drawPath(g,gDis4,x,y,'#e01f78',2,'g-4th-discharge',true);
  xAxis(g,x,gXTicks,gXMinor,721.7,734);
  yAxis(g,y,gYTicks,gYMinor,770.7,766.7,f1);
})();

/* ---------- LED board ---------- */
(function(){
  const g=gOf('led'),rows=11,cols=50,col=scale(0,49,790,996),row=scale(0,10,653,695);
  const layers=[[ledRed,0,'#ff4a28'],[ledBlue,12,'#3a6aff'],[ledGreen,24,'#38e878'],[ledWhite,37,'#f8f8f0']];
  for(let r=0;r<rows;r++){for(let c=0;c<cols;c++){
    drawLed(g,col(c),row(r),.9,c<24?'#4c4a48':'#71802e');
  }}
  layers.forEach(l=>{
    l[0].forEach((line,r)=>{
      for(let c=0;c<line.length;c++){
        if(line[c]==='#')drawLed(g,col(c+l[1]),row(r),1.75,l[2]);
      }
    });
  });
  function drawLed(parent,cx,cy,rad,color){
    const el=document.createElementNS(NS,'circle');
    el.setAttribute('cx',cx.toFixed(1));
    el.setAttribute('cy',cy.toFixed(1));
    el.setAttribute('r',rad);
    el.setAttribute('fill',color);
    
    
    parent.appendChild(el);
  }
})();
</script>
</body>
</html>
